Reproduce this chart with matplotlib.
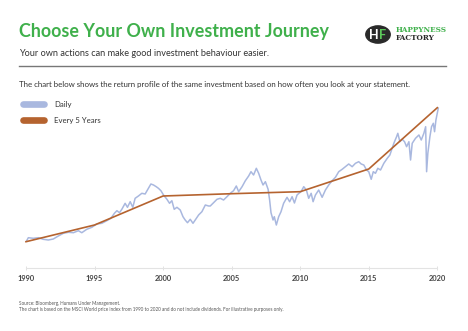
import matplotlib
matplotlib.use("Agg")
import matplotlib.pyplot as plt
from matplotlib.lines import Line2D
from matplotlib.patches import Circle

# Daily index level (arbitrary units)
daily_years = [
    1990.05, 1990.17, 1990.53, 1990.90, 1991.26, 1991.63, 1991.99, 1992.36, 1992.72, 1993.09,
    1993.46, 1993.82, 1994.07, 1994.43, 1994.80, 1995.16, 1995.53, 1995.89, 1996.19, 1996.45,
    1996.63, 1996.82, 1996.99, 1997.23, 1997.40, 1997.60, 1997.79, 1997.96, 1998.20, 1998.45,
    1998.69, 1998.93, 1999.11, 1999.30, 1999.50, 1999.66, 1999.84, 2000.03, 2000.28, 2000.47,
    2000.64, 2000.81, 2001.01, 2001.25, 2001.45, 2001.61, 2001.78, 2001.98, 2002.18, 2002.34,
    2002.59, 2002.83, 2003.08, 2003.32, 2003.44, 2003.68, 2003.93, 2004.17, 2004.41, 2004.66,
    2004.90, 2005.14, 2005.34, 2005.51, 2005.76, 2006.00, 2006.24, 2006.41, 2006.60, 2006.80,
    2006.97, 2007.14, 2007.29, 2007.46, 2007.66, 2007.77, 2007.87, 2008.02, 2008.11, 2008.26,
    2008.43, 2008.60, 2008.79, 2009.04, 2009.23, 2009.41, 2009.58, 2009.77, 2009.96, 2010.06,
    2010.26, 2010.45, 2010.62, 2010.80, 2010.94, 2011.11, 2011.35, 2011.60, 2011.84, 2012.08,
    2012.33, 2012.57, 2012.81, 2013.06, 2013.30, 2013.54, 2013.79, 2014.03, 2014.27, 2014.45,
    2014.64, 2014.84, 2015.00, 2015.18, 2015.33, 2015.49, 2015.66, 2015.86, 2016.10, 2016.35,
    2016.54, 2016.83, 2017.03, 2017.12, 2017.27, 2017.44, 2017.61, 2017.76, 2017.93, 2018.05,
    2018.17, 2018.41, 2018.66, 2018.83, 2019.02, 2019.15, 2019.22, 2019.31, 2019.46, 2019.58,
    2019.71, 2019.80, 2019.90, 2020.00, 2020.07,
]
daily_values = [
    260, 290, 284, 290, 274, 267, 277, 307, 334, 344,
    340, 360, 340, 374, 394, 427, 434, 460, 484, 534,
    560, 540, 574, 634, 594, 650, 594, 684, 707, 734,
    727, 784, 827, 817, 800, 784, 760, 717, 674, 634,
    660, 574, 594, 567, 500, 467, 440, 474, 434, 467,
    517, 550, 617, 607, 607, 640, 674, 684, 667, 700,
    734, 760, 807, 750, 800, 860, 907, 950, 917, 984,
    934, 867, 817, 850, 774, 667, 540, 467, 500, 417,
    500, 550, 634, 694, 650, 700, 637, 717, 740, 750,
    800, 767, 684, 734, 650, 717, 767, 694, 767, 817,
    860, 894, 950, 974, 1000, 1027, 1000, 1034, 1050, 1027,
    1017, 967, 950, 874, 950, 934, 984, 967, 1034, 1084,
    1117, 1234, 1300, 1334, 1250, 1274, 1250, 1200, 1250, 1067,
    1234, 1284, 1317, 1267, 1334, 1400, 950, 1134, 1300, 1400,
    1434, 1350, 1467, 1534, 1584,
]

# Looking only every 5 years
five_year_years = [1990, 1995, 2000, 2005, 2010, 2015, 2020]
five_year_values = [250, 417, 707, 730, 750, 977, 1590]

tick_years = [1990, 1995, 2000, 2005, 2010, 2015, 2020]

DAILY_C = "#a9b8df"
FIVE_C = "#b5632f"
GREEN = "#3fb04b"
DARK = "#333333"

W, H = 468, 331
fig = plt.figure(figsize=(W / 100, H / 100), dpi=100)
fig.patch.set_facecolor("white")


def fx(x):
    return x / W


def fy(y):
    return 1 - y / H


# header
fig.text(fx(19), fy(31), "Choose Your Own Investment Journey", color=GREEN,
         fontsize=12.9, fontweight="bold", family="Lato", va="center", ha="left")
fig.text(fx(19), fy(54), "Your own actions can make good investment behaviour easier.",
         color=DARK, fontsize=6.6, family="Lato", va="center", ha="left")
fig.add_artist(Line2D([fx(19), fx(446)], [fy(65.7), fy(65.7)], color="#777777", lw=1.0))
fig.text(fx(19), fy(84), "The chart below shows the return profile of the same investment "
         "based on how often you look at your statement.",
         color=DARK, fontsize=5.7, family="Lato", va="center", ha="left")

# logo
fig.add_artist(Circle((fx(378), fy(34.5)), 12.2 / W, color="#2a2a2a",
                      transform=fig.transFigure))
fig.text(fx(373.6), fy(35), "H", color="white", fontsize=9, fontweight="bold",
         family="Lato", va="center", ha="center")
fig.text(fx(382.8), fy(35), "F", color="#5cc85a", fontsize=9, fontweight="bold",
         family="Lato", va="center", ha="center")
fig.text(fx(396), fy(29.5), "HAPPYNESS", color=GREEN, fontsize=5.2, fontweight="bold",
         family="DejaVu Serif", va="center", ha="left")
fig.text(fx(396), fy(38), "FACTORY", color="#2a2a2a", fontsize=5.2, fontweight="bold",
         family="DejaVu Serif", va="center", ha="left")

# legend pills
for ypix, col, lab in [(104.3, DAILY_C, "Daily"), (120.3, FIVE_C, "Every 5 Years")]:
    fig.add_artist(Line2D([fx(22.5), fx(43.5)], [fy(ypix), fy(ypix)], color=col,
                          lw=4.8, solid_capstyle="round"))
    fig.text(fx(54), fy(ypix), lab, color=DARK, fontsize=5.6, family="Lato",
             va="center", ha="left")

# chart
left, right = 26, 437.3
top, bottom = 100, 268.3
ax = fig.add_axes([fx(left), fy(bottom), (right - left) / W, (bottom - top) / H])
ax.plot(daily_years, daily_values, color=DAILY_C, lw=1.1, clip_on=False)
ax.plot(five_year_years, five_year_values, color=FIVE_C, lw=1.2, clip_on=False)
ax.set_xlim(1990, 2020)
ax.set_ylim(-16, 1667)
for s in ["top", "right", "left"]:
    ax.spines[s].set_visible(False)
ax.spines["bottom"].set_color("#e3e3e3")
ax.spines["bottom"].set_linewidth(0.8)
ax.set_yticks([])
ax.set_xticks(tick_years)
ax.set_xticklabels([str(t) for t in tick_years], fontsize=5.4, fontweight="bold",
                   color="#444444", family="Lato")
ax.tick_params(axis="x", direction="inout", length=3, width=0.6, color="#dddddd", pad=3)
ax.patch.set_alpha(0)

# footnotes
fig.text(fx(19), fy(303.7), "Source: Bloomberg, Humans Under Management.", color="#555555",
         fontsize=3.35, family="Lato", va="center", ha="left")
fig.text(fx(19), fy(309.8), "The chart is based on the MSCI World price index from 1990 to 2020 "
         "and do not include dividends. For illustrative purposes only.", color="#555555",
         fontsize=3.35, family="Lato", va="center", ha="left")

fig.savefig("out.png", dpi=100)
